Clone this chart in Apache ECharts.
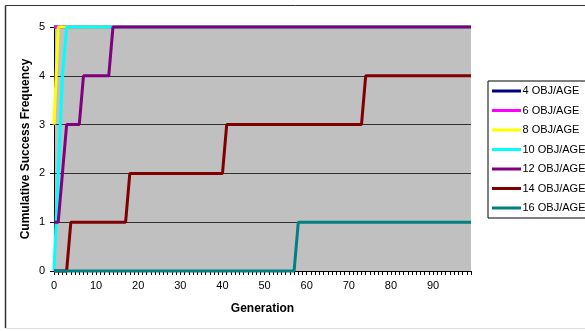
<!DOCTYPE html>
<html>
<head>
<meta charset="utf-8">
<script src="https://cdn.jsdelivr.net/npm/echarts@6/dist/echarts.min.js"></script>
<style>
  html, body { margin: 0; padding: 0; background: #fff; }
  #chart { width: 585px; height: 331px; }
</style>
</head>
<body>
<div id="chart"></div>
<script>
// Generations 0..99 on the category axis
var generations = [];
for (var g = 0; g < 100; g++) generations.push(String(g));

var yTicks = [0, 1, 2, 3, 4, 5];

var seriesNames = ['4 OBJ/AGE', '6 OBJ/AGE', '8 OBJ/AGE', '10 OBJ/AGE', '12 OBJ/AGE', '14 OBJ/AGE', '16 OBJ/AGE'];
var seriesColors = ['#000080', '#ff00ff', '#ffff00', '#00ffff', '#800080', '#800000', '#008080'];

// Cumulative success frequency per generation
var obj4 = [
  5,5,5,5,5,5,5,5,5,5, 5,5,5,5,5,5,5,5,5,5, 5,5,5,5,5,5,5,5,5,5, 5,5,5,5,5,5,5,5,5,5, 5,5,5,5,5,5,5,5,5,5,
  5,5,5,5,5,5,5,5,5,5, 5,5,5,5,5,5,5,5,5,5, 5,5,5,5,5,5,5,5,5,5, 5,5,5,5,5,5,5,5,5,5, 5,5,5,5,5,5,5,5,5,5
];
var obj6 = [
  5,5,5,5,5,5,5,5,5,5, 5,5,5,5,5,5,5,5,5,5, 5,5,5,5,5,5,5,5,5,5, 5,5,5,5,5,5,5,5,5,5, 5,5,5,5,5,5,5,5,5,5,
  5,5,5,5,5,5,5,5,5,5, 5,5,5,5,5,5,5,5,5,5, 5,5,5,5,5,5,5,5,5,5, 5,5,5,5,5,5,5,5,5,5, 5,5,5,5,5,5,5,5,5,5
];
var obj8 = [
  3,5,5,5,5,5,5,5,5,5, 5,5,5,5,5,5,5,5,5,5, 5,5,5,5,5,5,5,5,5,5, 5,5,5,5,5,5,5,5,5,5, 5,5,5,5,5,5,5,5,5,5,
  5,5,5,5,5,5,5,5,5,5, 5,5,5,5,5,5,5,5,5,5, 5,5,5,5,5,5,5,5,5,5, 5,5,5,5,5,5,5,5,5,5, 5,5,5,5,5,5,5,5,5,5
];
var obj10 = [
  0,2,4,5,5,5,5,5,5,5, 5,5,5,5,5,5,5,5,5,5, 5,5,5,5,5,5,5,5,5,5, 5,5,5,5,5,5,5,5,5,5, 5,5,5,5,5,5,5,5,5,5,
  5,5,5,5,5,5,5,5,5,5, 5,5,5,5,5,5,5,5,5,5, 5,5,5,5,5,5,5,5,5,5, 5,5,5,5,5,5,5,5,5,5, 5,5,5,5,5,5,5,5,5,5
];
var obj12 = [
  1,1,2,3,3,3,3,4,4,4, 4,4,4,4,5,5,5,5,5,5, 5,5,5,5,5,5,5,5,5,5, 5,5,5,5,5,5,5,5,5,5, 5,5,5,5,5,5,5,5,5,5,
  5,5,5,5,5,5,5,5,5,5, 5,5,5,5,5,5,5,5,5,5, 5,5,5,5,5,5,5,5,5,5, 5,5,5,5,5,5,5,5,5,5, 5,5,5,5,5,5,5,5,5,5
];
var obj14 = [
  0,0,0,0,1,1,1,1,1,1, 1,1,1,1,1,1,1,1,2,2, 2,2,2,2,2,2,2,2,2,2, 2,2,2,2,2,2,2,2,2,2, 2,3,3,3,3,3,3,3,3,3,
  3,3,3,3,3,3,3,3,3,3, 3,3,3,3,3,3,3,3,3,3, 3,3,3,3,4,4,4,4,4,4, 4,4,4,4,4,4,4,4,4,4, 4,4,4,4,4,4,4,4,4,4
];
var obj16 = [
  0,0,0,0,0,0,0,0,0,0, 0,0,0,0,0,0,0,0,0,0, 0,0,0,0,0,0,0,0,0,0, 0,0,0,0,0,0,0,0,0,0, 0,0,0,0,0,0,0,0,0,0,
  0,0,0,0,0,0,0,0,1,1, 1,1,1,1,1,1,1,1,1,1, 1,1,1,1,1,1,1,1,1,1, 1,1,1,1,1,1,1,1,1,1, 1,1,1,1,1,1,1,1,1,1
];

var seriesValues = [obj4, obj6, obj8, obj10, obj12, obj14, obj16];

var font = 'Liberation Sans, Arial, sans-serif';

var chart = echarts.init(document.getElementById('chart'), null, { renderer: 'canvas' });

chart.setOption({
  backgroundColor: '#ffffff',
  animation: false,
  textStyle: { fontFamily: font },
  graphic: [
    { type: 'line', shape: { x1: 5.5, y1: 5.5, x2: 585, y2: 5.5 }, style: { stroke: '#333', lineWidth: 1 } },
    { type: 'line', shape: { x1: 5.5, y1: 5.5, x2: 5.5, y2: 328 }, style: { stroke: '#333', lineWidth: 1.5 } },
    { type: 'line', shape: { x1: 5.5, y1: 328.5, x2: 585, y2: 328.5 }, style: { stroke: '#ddd', lineWidth: 1 } }
  ],
  grid: {
    left: 54, top: 27, width: 417, height: 244,
    show: true, backgroundColor: '#c0c0c0', borderWidth: 0
  },
  legend: {
    orient: 'vertical',
    left: 488, top: 81,
    data: seriesNames,
    backgroundColor: '#ffffff',
    borderColor: '#000000',
    borderWidth: 1,
    padding: [3, 40, 3, 4],
    itemWidth: 29,
    itemHeight: 14,
    itemGap: 5.5,
    icon: 'path://M0,5.5L29,5.5L29,8.5L0,8.5Z',
    textStyle: { fontFamily: font, fontSize: 11, color: '#000', lineHeight: 14, padding: [0, 0, 0, -3.5] }
  },
  xAxis: {
    type: 'category',
    data: generations,
    boundaryGap: false,
    name: 'Generation',
    nameLocation: 'middle',
    nameGap: 32,
    nameMoveOverlap: false,
    nameTextStyle: { fontFamily: font, fontSize: 12, fontWeight: 'bold', color: '#000' },
    axisLine: { show: true, lineStyle: { color: '#000', width: 1 } },
    axisTick: { show: true, interval: 0, length: 4, inside: false, lineStyle: { color: '#000' } },
    axisLabel: {
      interval: 9, margin: 9,
      fontFamily: font, fontSize: 11, color: '#000',
      formatter: function (v) { return Number(v) % 10 === 0 ? v : ''; }
    },
    splitLine: { show: false }
  },
  yAxis: {
    type: 'value',
    min: yTicks[0], max: yTicks[yTicks.length - 1], interval: 1,
    name: 'Cumulative Success Frequency',
    nameLocation: 'middle',
    nameGap: 22,
    nameMoveOverlap: false,
    nameTextStyle: { fontFamily: font, fontSize: 12, fontWeight: 'bold', color: '#000' },
    axisLine: { show: true, lineStyle: { color: '#000', width: 1 } },
    axisTick: { show: true, length: 4, inside: false, lineStyle: { color: '#000' } },
    axisLabel: { margin: 9, fontFamily: font, fontSize: 11, color: '#000' },
    splitLine: { show: true, lineStyle: { color: '#303030', width: 1 } }
  },
  series: seriesNames.map(function (name, i) {
    return {
      name: name,
      type: 'line',
      data: seriesValues[i],
      symbol: 'none',
      showSymbol: false,
      clip: false,
      color: seriesColors[i],
      lineStyle: { color: seriesColors[i], width: 3 },
      z: 2 + i
    };
  })
});
</script>
</body>
</html>
